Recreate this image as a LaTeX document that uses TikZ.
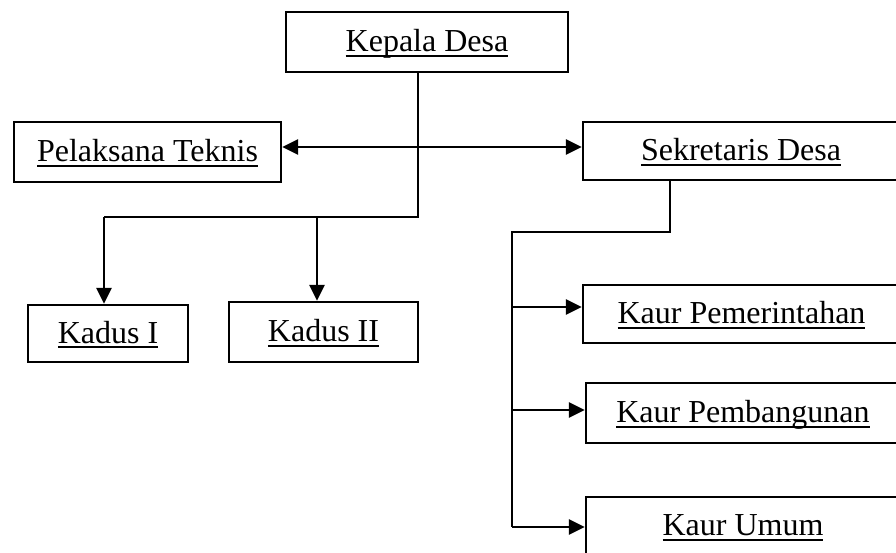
\documentclass[tikz,border=0pt]{standalone}
\usepackage{fontspec}
\setmainfont{Liberation Serif}
\usetikzlibrary{arrows.meta}
\newcommand\ulx[1]{\setbox0\hbox{#1}\rlap{\vrule height -3pt depth 5pt width \wd0}\box0}
\tikzset{
  orgbox/.style={draw=black, line width=2.3pt, rectangle, inner sep=0pt,
    text height=22pt, text depth=2.6pt, font=\fontsize{32}{38}\selectfont},
  conn/.style={line width=2.4pt},
  arr/.style={conn, -{Triangle[length=16pt,width=15pt]}},
  darr/.style={conn, {Triangle[length=16pt,width=15pt]}-{Triangle[length=16pt,width=15pt]}}
}
\begin{document}
\begin{tikzpicture}[x=1pt,y=-1pt]
\useasboundingbox (0,0) rectangle (896,553);
\clip (0,0) rectangle (896,553);
\fill[white] (0,0) rectangle (896,553);
% boxes
\node[orgbox, minimum width=282pt, minimum height=60pt] (kd) at (427,42) {\ulx{Kepala Desa}};
\node[orgbox, minimum width=267pt, minimum height=60pt] (pt) at (147.5,152) {\ulx{Pelaksana Teknis}};
\node[orgbox, minimum width=316pt, minimum height=58pt] (sd) at (741,151) {\ulx{Sekretaris Desa}};
\node[orgbox, minimum width=160pt, minimum height=57pt] (k1) at (108,333.5) {\ulx{Kadus I}};
\node[orgbox, minimum width=189pt, minimum height=60pt] (k2) at (323.5,332) {\ulx{Kadus II}};
\node[orgbox, minimum width=317pt, minimum height=58pt] (kp) at (741.5,314) {\ulx{Kaur Pemerintahan}};
\node[orgbox, minimum width=314pt, minimum height=60pt] (kb) at (743,413) {\ulx{Kaur Pembangunan}};
\node[orgbox, minimum width=314pt, minimum height=58pt] (ku) at (743,526) {\ulx{Kaur Umum}};
% junction coordinates
\coordinate (j0) at (418,217);
\coordinate (a1) at (104,217);
\coordinate (a2) at (317,217);
\coordinate (h) at (0,147);
\coordinate (s1) at (670,232);
\coordinate (s2) at (512,232);
\coordinate (y1) at (512,307);
\coordinate (y2) at (512,410);
\coordinate (y3) at (512,527);
% connectors
\draw[conn, line join=miter] (j0 |- kd.south) -- (j0) -- (a1);
\draw[arr] (a1) -- (a1 |- k1.north);
\draw[arr] (a2) -- (a2 |- k2.north);
\draw[darr] (pt.east |- h) -- (sd.west |- h);
\draw[conn, line join=miter] (s1 |- sd.south) -- (s1) -- (s2) -- (y3);
\draw[arr] (y1) -- (kp.west |- y1);
\draw[arr] (y2) -- (kb.west |- y2);
\draw[arr] (y3) -- (ku.west |- y3);
\end{tikzpicture}
\end{document}
